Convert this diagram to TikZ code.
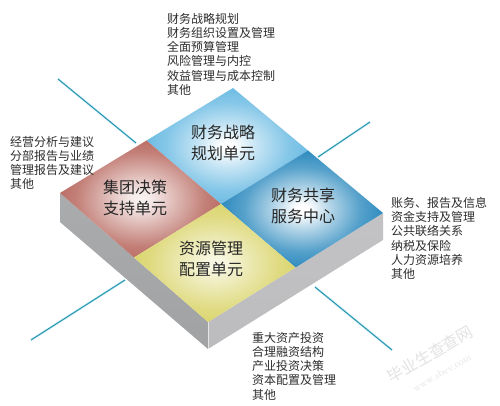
\documentclass[tikz,border=0pt]{standalone}
\usepackage{fontspec}
\newfontfamily\cjk{Noto Sans CJK SC}
\definecolor{qlb}{RGB}{92,180,224}
\definecolor{qred}{RGB}{178,92,82}
\definecolor{qdb}{RGB}{30,130,186}
\definecolor{qyel}{RGB}{214,208,92}
\definecolor{sideL}{RGB}{160,162,164}
\definecolor{sideR}{RGB}{188,188,190}
\definecolor{axis}{RGB}{38,148,170}
\definecolor{txt}{RGB}{45,45,45}
\pgfdeclareradialshading{shlb}{\pgfpoint{0bp}{0bp}}{color(0bp)=(white); color(2bp)=(white); color(9bp)=(qlb!35!white); color(19bp)=(qlb!75!white); color(30bp)=(qlb); color(80bp)=(qlb)}
\pgfdeclareradialshading{shred}{\pgfpoint{0bp}{0bp}}{color(0bp)=(white!92!qred); color(3bp)=(white!88!qred); color(10bp)=(qred!40!white); color(20bp)=(qred!78!white); color(31bp)=(qred); color(80bp)=(qred)}
\pgfdeclareradialshading{shdb}{\pgfpoint{0bp}{0bp}}{color(0bp)=(white); color(2bp)=(white); color(9bp)=(qdb!35!white); color(18bp)=(qdb!75!white); color(28bp)=(qdb); color(80bp)=(qdb)}
\pgfdeclareradialshading{shyel}{\pgfpoint{0bp}{0bp}}{color(0bp)=(white!85!qyel); color(3bp)=(white!80!qyel); color(10bp)=(qyel!45!white); color(20bp)=(qyel!78!white); color(31bp)=(qyel); color(80bp)=(qyel)}
\tikzset{
  listtext/.style={anchor=north west, inner sep=0pt, align=left, text=txt,
    font=\cjk\fontsize{12}{14.2}\selectfont},
  quadlabel/.style={align=center, inner sep=0pt, text=black!85,
    font=\cjk\fontsize{16}{21}\selectfont},
  axisglow/.style={draw=cyan!18, line width=2.4pt},
  axisline/.style={draw=axis, line width=1pt},
  watermark/.style={rotate=30, text=gray!22, inner sep=0pt}
}
\begin{document}
\begin{tikzpicture}[x=1pt,y=-1pt]
\useasboundingbox (0,0) rectangle (500,406);
\fill[white] (0,0) rectangle (500,406);
% corners of the slab
\coordinate (T) at (233,88);
\coordinate (L) at (60,193);
\coordinate (R) at (383,213);
\coordinate (B) at (208,322);
\coordinate (C) at (221,204);
\coordinate (mTL) at (146.5,140.5);
\coordinate (mTR) at (308,150.5);
\coordinate (mBL) at (134,257.5);
\coordinate (mBR) at (295.5,267.5);
\coordinate (Ld) at (60,222);
\coordinate (Bd) at (208,349);
\coordinate (Rd) at (383,240);
% axis line end points
\coordinate (a1) at (58,79);   \coordinate (a2) at (136,143);
\coordinate (b1) at (370,122); \coordinate (b2) at (318,157);
\coordinate (c1) at (31,340);  \coordinate (c2) at (125,280);
\coordinate (d1) at (315,287); \coordinate (d2) at (392,350);
% axis lines
\foreach \p/\q in {a1/a2,b1/b2,c1/c2,d1/d2}{
  \draw[axisglow] (\p) -- (\q);
  \draw[axisline] (\p) -- (\q);
}
% side faces
\shade[top color=sideL!90, bottom color=sideL] (L) -- (B) -- (Bd) -- (Ld) -- cycle;
\shade[top color=sideR!90, bottom color=sideR] (B) -- (R) -- (Rd) -- (Bd) -- cycle;
\draw[white, opacity=0.6, line width=0.8pt] (B) -- (Bd);
% top face quadrants
\shade[shading=shlb]  (T) -- (mTR) -- (C) -- (mTL) -- cycle;
\shade[shading=shred] (L) -- (mTL) -- (C) -- (mBL) -- cycle;
\shade[shading=shdb]  (R) -- (mBR) -- (C) -- (mTR) -- cycle;
\shade[shading=shyel] (B) -- (mBL) -- (C) -- (mBR) -- cycle;
% quadrant labels
\node[quadlabel] (q1) at (223,143) {财务战略\\规划单元};
\node[quadlabel] (q2) at (135,198) {集团决策\\支持单元};
\node[quadlabel] (q3) at (303,206) {财务共享\\服务中心};
\node[quadlabel] (q4) at (211,259) {资源管理\\配置单元};
% lists
\node[listtext] (l1) at (167,13) {财务战略规划\\财务组织设置及管理\\全面预算管理\\风险管理与内控\\效益管理与成本控制\\其他};
\node[listtext] (l2) at (10,136) {经营分析与建议\\分部报告与业绩\\管理报告及建议\\其他};
\node[listtext] (l3) at (391,197) {账务、报告及信息\\资金支持及管理\\公共联络关系\\纳税及保险\\人力资源培养\\其他};
\node[listtext] (l4) at (252,332) {重大资产投资\\合理融资结构\\产业投资决策\\资本配置及管理\\其他};
% watermark
\node[watermark, font=\cjk\fontsize{16}{16}\selectfont] (wm1) at (430,354) {毕业生查查网};
\node[watermark, font=\fontsize{10}{10}\selectfont\addfontfeature{LetterSpace=40}] (wm2) at (442,373) {www.sbvv.com};
\end{tikzpicture}
\end{document}
